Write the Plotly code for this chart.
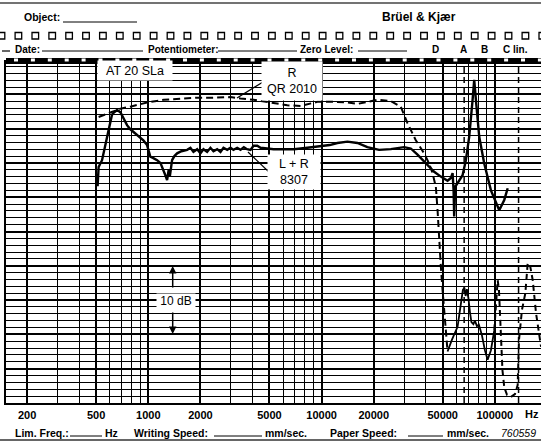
import math
import plotly.graph_objects as go

# ---------------- data ----------------
# L + R (8307) response, solid trace
lr_freq = [510, 517, 541, 572, 617, 631, 660, 690, 718, 754, 788, 823, 859, 900, 937, 984,
           1028, 1070, 1124, 1175, 1201, 1230, 1255, 1284, 1312, 1333, 1372, 1415, 1467, 1553,
           1676, 1751, 1822, 1914, 2000, 2082, 2186, 2284, 2378, 2498, 2610, 2716, 2854, 2982,
           3102, 3260, 3406, 3560, 3714, 3890, 4050, 4254, 4446, 4858, 5284, 5800, 6924, 8280,
           9880, 11140, 12340, 14100, 16100, 18380, 21460, 25080, 29940, 32720, 35780, 39960,
           44640, 48780, 53340, 55740, 57020, 57780, 58240, 59020, 60920, 65120, 68040, 71100,
           74380, 76000, 77740, 81240, 86820, 94920, 106000, 113300, 118600]
lr_db = [31.6, 34.4, 35.4, 38.3, 42.0, 42.3, 42.7, 42.4, 41.5, 40.5, 39.9, 39.5, 39.2, 38.8, 38.3, 37.6,
         35.9, 35.7, 35.4, 35.0, 34.4, 34.0, 33.2, 32.5, 34.0, 33.1, 35.4, 36.0, 36.4, 36.7,
         36.9, 37.2, 36.6, 37.0, 36.4, 37.0, 36.6, 37.2, 36.7, 37.0, 36.6, 37.2, 36.9, 37.2,
         36.9, 37.2, 36.9, 37.3, 37.0, 36.9, 37.5, 37.5, 37.2, 37.1, 37.0, 37.0, 37.0, 37.2,
         37.5, 37.6, 37.9, 38.1, 37.9, 37.3, 36.9, 37.0, 37.3, 37.1, 36.2, 34.9,
         33.7, 33.0, 32.4, 32.8, 33.5, 31.0, 27.2, 31.5, 32.0, 33.2, 35.4, 38.8,
         44.2, 47.1, 44.2, 38.8, 34.9, 31.0, 28.1, 29.6, 31.3]

# R (QR 2010) response, dashed trace, in three pen sections
r_freq_a = [517, 565, 631, 690, 788, 984, 1227, 1532, 1914, 2388, 2982, 3406, 4066, 5078, 6342,
            7568, 9456, 11790, 14100, 16100, 18380, 21020, 25080, 28660, 31320, 34980, 39060,
            41760, 43700, 45660, 46700, 47700, 48780, 49900, 50980, 52160, 53340]
r_db_a = [41.7, 42.1, 42.6, 42.9, 43.2, 43.8, 44.2, 44.4, 44.5, 44.5, 44.6, 44.4, 44.2, 43.8, 43.4,
          43.3, 43.9, 43.9, 43.8, 43.6, 43.9, 44.2, 44.0, 43.2, 40.8, 38.3, 36.4,
          34.9, 33.5, 31.5, 28.1, 23.3, 19.9, 16.5, 13.6, 11.1, 7.5]
r_freq_b = [53340, 56480, 60920, 63680, 65400, 66720, 67780, 68960, 70360, 71780, 73220, 75180,
            76700, 78780, 80900, 84180, 87620, 90840, 94920, 99200]
r_db_b = [7.5, 9.2, 11.1, 15.0, 16.5, 16.8, 15.6, 16.6, 15.3, 13.3, 11.8, 11.5,
          12.0, 11.2, 11.4, 9.9, 7.7, 6.3, 7.7, 10.6]
r_freq_c = [99200, 103800, 105600, 108400, 110600, 113300, 117500, 123900, 130600, 135400,
            137800, 143400, 149900, 154700, 159500, 165400, 172800, 184700]
r_db_c = [10.6, 17.9, 16.5, 10.6, 4.8, 2.3, 1.2, 0.9, 1.3, 2.6,
          9.2, 13.6, 16.0, 20.4, 20.1, 17.9, 13.1, 8.2]

# dashed filter marker lines
marker_freq = [66500, 137000]
marker_db = [0, 50]

tick_freqs = [200, 500, 1000, 2000, 5000, 10000, 20000, 50000, 100000]
tick_labels = ["200", "500", "1000", "2000", "5000", "10000", "20000", "50000", "100000"]
db_min, db_max = 0, 50
f_lo, f_hi = 151, 184600

# ---------------- layout helpers ----------------
W, H = 541, 441
L, R, T, B = 6, 541, 60, 403


def xp(px):
    return (px - L) / (R - L)


def yp(py):
    return (B - py) / (B - T)


minor_f = []
for e in range(2, 6):
    for m in range(1, 10):
        v = m * 10 ** e
        if f_lo <= v <= f_hi and v not in tick_freqs:
            minor_f.append(v)

FONT = "Liberation Sans"
fig = go.Figure()

fig.add_trace(go.Scatter(x=lr_freq, y=lr_db, mode="lines",
                         line=dict(color="black", width=2.4)))
fig.add_trace(go.Scatter(x=r_freq_a, y=r_db_a, mode="lines",
                         line=dict(color="black", width=2, dash="7px,4px")))
fig.add_trace(go.Scatter(x=r_freq_b, y=r_db_b, mode="lines",
                         line=dict(color="black", width=1.8)))
fig.add_trace(go.Scatter(x=r_freq_c, y=r_db_c, mode="lines",
                         line=dict(color="black", width=2, dash="6px,4px")))
for f in marker_freq:
    fig.add_trace(go.Scatter(x=[f, f], y=marker_db, mode="lines",
                             line=dict(color="black", width=1.5, dash="6px,4px")))

fig.update_layout(
    width=W, height=H, showlegend=False,
    margin=dict(l=L, r=W - R, t=T, b=H - B, pad=0),
    paper_bgcolor="white", plot_bgcolor="white",
    xaxis=dict(type="log", range=[math.log10(f_lo), math.log10(f_hi)],
               tickmode="array", tickvals=tick_freqs, ticktext=tick_labels,
               showgrid=True, gridcolor="black", gridwidth=2,
               minor=dict(tickmode="array", tickvals=minor_f, showgrid=True,
                          gridcolor="black", gridwidth=1.2, ticks=""),
               ticks="", ticklabelstandoff=1,
               tickfont=dict(family=FONT, size=11, color="black", weight="bold"),
               showline=True, linecolor="black", linewidth=2, zeroline=False),
    yaxis=dict(range=[db_min, db_max], tickmode="array", tickvals=list(range(0, 51, 5)),
               showticklabels=False, ticks="",
               showgrid=True, gridcolor="black", gridwidth=2,
               minor=dict(dtick=1, showgrid=True, gridcolor="black", gridwidth=1.2, ticks=""),
               showline=True, linecolor="black", linewidth=2, zeroline=False),
)

shapes = []
ann = []


def hline(x0, x1, y, w=1.0, color="black"):
    shapes.append(dict(type="line", xref="paper", yref="paper",
                       x0=xp(x0), x1=xp(x1), y0=yp(y), y1=yp(y),
                       line=dict(color=color, width=w)))


def text(x, y, s, size=10, anchor="left", bold=True, italic=False, bg=None, w=None, h=None):
    d = dict(xref="paper", yref="paper", x=xp(x), y=yp(y), text=s, showarrow=False,
             xanchor=anchor, yanchor="middle",
             font=dict(family=FONT, size=size, color="black",
                       weight="bold" if bold else "normal",
                       style="italic" if italic else "normal"))
    if bg:
        d.update(bgcolor=bg, borderpad=0)
    if w:
        d.update(width=w)
    if h:
        d.update(height=h)
    ann.append(d)


# top rule
hline(0, 541, 3, 1.5, "#444")
# header
text(22, 17, "Object:", 10.5)
hline(63, 137, 22, 1)
text(380, 17, "Brüel &amp; Kjær", 12)
# sprocket holes
k = 0
while 1.5 + 16.9 * k < 545:
    cx = 1.5 + 16.9 * k
    shapes.append(dict(type="rect", xref="paper", yref="paper",
                       x0=xp(cx - 3.3), x1=xp(cx + 3.3), y0=yp(39), y1=yp(32.5),
                       line=dict(color="black", width=1.3), fillcolor="white"))
    k += 1
# header row
hline(2, 10, 51, 1.2)
text(13, 50, "Date:", 10)
hline(42, 143, 51, 1)
text(146, 50, "Potentiometer:", 10)
hline(218, 297, 51, 1)
text(298, 50, "Zero Level:", 10)
hline(358, 407, 51, 1)
text(435, 50, "D", 10, "center")
text(463, 50, "A", 10, "center")
text(484, 50, "B", 10, "center")
text(501, 50, "C lin.", 10)

# top bar of the chart paper
shapes.append(dict(type="rect", xref="paper", yref="paper", x0=xp(6), x1=xp(541),
                   y0=yp(64), y1=yp(58), line=dict(width=0), fillcolor="black"))
k = 0
while 14 + 16.9 * k < 541:
    gx = 14 + 16.9 * k
    shapes.append(dict(type="rect", xref="paper", yref="paper", x0=xp(gx), x1=xp(gx + 4),
                       y0=yp(61.5), y1=yp(58.5), line=dict(width=0), fillcolor="white"))
    k += 1

# in-chart labels
text(135, 70, "AT 20 SLa", 12.5, "center", bold=False, bg="white", w=74, h=19)
text(292, 81, "R<br>QR 2010", 12.5, "center", bold=False, bg="white", w=60, h=38)
shapes.append(dict(type="line", xref="paper", yref="paper", x0=xp(263), y0=yp(82),
                   x1=xp(237), y1=yp(98), line=dict(color="black", width=1.2)))
text(294, 172, "L + R<br>8307", 12.5, "center", bold=False, bg="white", w=52, h=34)
shapes.append(dict(type="line", xref="paper", yref="paper", x0=xp(270), y0=yp(173),
                   x1=xp(248), y1=yp(152), line=dict(color="black", width=1.2)))
text(176, 300, "10 dB", 12, "center", bold=False, bg="white", w=38, h=13)
for tip, tail in ((266, 289), (334, 311)):
    ann.append(dict(xref="paper", yref="paper", x=xp(172.7), y=yp(tip), ax=0,
                    ay=tail - tip, text="", showarrow=True, arrowhead=2, arrowsize=1,
                    arrowwidth=1.5, arrowcolor="black"))

# bottom texts
text(532, 414, "Hz", 11, "center")
text(13, 433, "Lim. Freq.:", 10.5)
hline(70, 102, 436, 1)
text(103, 433, "Hz", 10.5)
text(132, 433, "Writing Speed:", 10.5)
hline(214, 262, 436, 1)
text(263, 433, "mm/sec.", 10.5)
text(328, 433, "Paper Speed:", 10.5)
hline(408, 443, 436, 1)
text(445, 433, "mm/sec.", 10.5)
text(499, 433, "760559", 10.5, bold=False, italic=True)
hline(0, 541, 440, 1.5, "#333")

fig.update_layout(shapes=shapes, annotations=ann)
fig.write_html("out.html", config={"displayModeBar": False},
               post_script="document.body.style.margin='0px';document.body.style.padding='0px';")
